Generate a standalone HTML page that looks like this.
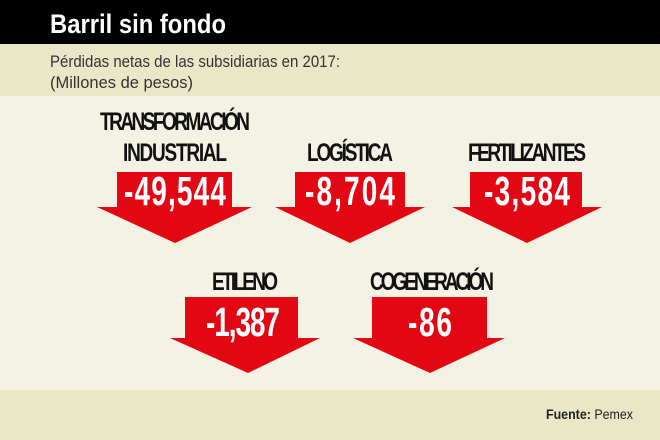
<!DOCTYPE html>
<html><head><meta charset="utf-8"><style>
html,body{margin:0;padding:0;background:#f4f2e4;}
svg{display:block}
</style></head><body>
<svg width="660" height="440" xmlns="http://www.w3.org/2000/svg" font-family="Liberation Sans, sans-serif">
<rect width="660" height="440" fill="#f4f2e4"/>
<rect width="660" height="44" fill="#000"/>
<rect y="44" width="660" height="52" fill="#e9e7c7"/>
<rect y="390" width="660" height="50" fill="#e9e7c7"/>
<text x="50" y="33" fill="#fff" font-weight="bold" font-size="27" textLength="176" lengthAdjust="spacingAndGlyphs">Barril sin fondo</text>
<text x="50" y="67" fill="#333" font-size="17" textLength="290" lengthAdjust="spacingAndGlyphs">Pérdidas netas de las subsidiarias en 2017:</text>
<text x="50" y="88" fill="#333" font-size="17" textLength="143" lengthAdjust="spacingAndGlyphs">(Millones de pesos)</text>
<g fill="#e30613">
<polygon points="117,172 232,172 232,207 252,207 175,243 97,207 117,207"/>
<polygon points="295,172 405,172 405,207 425,207 350,243 275,207 295,207"/>
<polygon points="470,172 582,172 582,207 602,207 527,243 452,207 470,207"/>
<polygon points="185,297 298,297 298,338 320,338 248,373 170,338 185,338"/>
<polygon points="372,297 487,297 487,338 505,338 430,373 353,338 372,338"/>
</g>
<g font-weight="bold" fill="#111" font-size="19" text-anchor="middle" lengthAdjust="spacingAndGlyphs">
<g transform="translate(175,130) scale(1,1.3)"><text textLength="150">TRANSFORMACIÓN</text></g>
<g transform="translate(175,161) scale(1,1.3)"><text textLength="104">INDUSTRIAL</text></g>
<g transform="translate(350,161) scale(1,1.3)"><text textLength="86">LOGÍSTICA</text></g>
<g transform="translate(527,161) scale(1,1.3)"><text textLength="118">FERTILIZANTES</text></g>
<g transform="translate(245,290) scale(1,1.3)"><text textLength="66">ETILENO</text></g>
<g transform="translate(432,290) scale(1,1.3)"><text textLength="124">COGENERACIÓN</text></g>
</g>
<g font-weight="bold" fill="#fff" font-size="28" text-anchor="middle" lengthAdjust="spacingAndGlyphs">
<g transform="translate(175,205) scale(1,1.45)"><text textLength="102">-49,544</text></g>
<g transform="translate(350,205) scale(1,1.45)"><text textLength="90">-8,704</text></g>
<g transform="translate(527,205) scale(1,1.45)"><text textLength="86">-3,584</text></g>
<g transform="translate(243,336) scale(1,1.45)"><text textLength="74">-1,387</text></g>
<g transform="translate(430,336) scale(1,1.45)"><text textLength="44">-86</text></g>
</g>
<text x="546" y="419" font-size="14" fill="#222" textLength="87" lengthAdjust="spacingAndGlyphs"><tspan font-weight="bold">Fuente:</tspan> Pemex</text>
</svg>
</body></html>
